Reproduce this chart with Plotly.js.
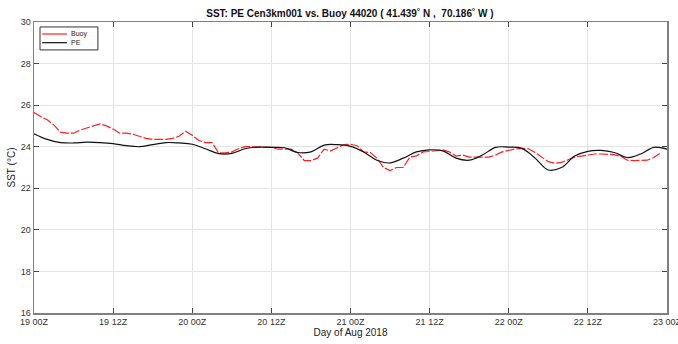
<!DOCTYPE html>
<html>
<head>
<meta charset="utf-8">
<script src="https://cdn.plot.ly/plotly-3.0.1.min.js"></script>
<style>
  html, body { margin: 0; padding: 0; background: #fff; overflow: hidden; }
  #chart { width: 678px; height: 344px; }
</style>
</head>
<body>
<div id="chart"></div>
<script>
// Hours since 19 Aug 2018 00Z
const peHours = [0,2,4,6,8,10,12,14,16,18,20,22,24,26,28,30,32,34,36,38,40,42,44,46,48,
  50,52,54,56,58,60,62,64,66,68,70,72,74,76,78,80,82,84,86,88,90,92,94,96];
// Model (PE) sea surface temperature, degC
const peSST = [24.62,24.35,24.2,24.18,24.22,24.2,24.15,24.05,24.0,24.1,24.2,24.18,24.12,23.9,23.67,
  23.68,23.9,23.98,23.97,23.95,23.72,23.75,24.08,24.1,24.02,23.75,23.35,23.22,23.45,23.75,23.85,
  23.8,23.45,23.35,23.6,23.97,23.98,23.92,23.45,22.88,23.0,23.55,23.78,23.82,23.72,23.48,23.65,
  23.97,23.88];

// Buoy 44020 hourly observations
const buoyHours = [0,1,2,3,4,5,6,7,8,9,10,11,12,13,14,15,16,17,18,19,20,21,22,23,24,25,26,27,28,29,
  30,31,32,33,34,35,36,37,38,39,40,41,42,43,44,45,46,47,48,49,50,51,52,53,54,55,56,57,58,59,60,61,
  62,63,64,65,66,67,68,69,70,71,72,73,74,75,76,77,78,79,80,81,82,83,84,85,86,87,88,89,90,91,92,93,
  94,95];
const buoySST = [25.65,25.45,25.3,25.05,24.7,24.65,24.65,24.8,24.9,25.0,25.1,25.0,24.85,24.65,24.65,
  24.6,24.5,24.4,24.35,24.35,24.35,24.4,24.5,24.75,24.55,24.3,24.2,24.2,23.7,23.7,23.75,23.9,24.0,
  24.0,23.97,23.97,23.97,23.88,23.88,23.88,23.7,23.33,23.33,23.45,23.88,23.8,23.95,24.1,24.12,24.05,
  23.75,23.72,23.45,23.0,22.85,23.0,23.0,23.5,23.56,23.75,23.77,23.82,23.85,23.75,23.55,23.6,23.5,
  23.5,23.5,23.5,23.6,23.75,23.82,23.9,23.92,23.9,23.72,23.5,23.28,23.2,23.25,23.37,23.5,23.55,23.6,
  23.65,23.65,23.65,23.62,23.53,23.35,23.33,23.33,23.35,23.48,23.7];

const xTickVals = [0,12,24,36,48,60,72,84,96];
const xTickText = ['19 00Z','19 12Z','20 00Z','20 12Z','21 00Z','21 12Z','22 00Z','22 12Z','23 00Z'];
const yTickVals = [16,18,20,22,24,26,28,30];
const seriesNames = ['Buoy', 'PE'];
const seriesColors = ['#ff2020', '#111111'];

const FONT = 'Liberation Sans, Arial, sans-serif';
const AXIS_GREY = '#808080';

const traces = [
  {
    x: buoyHours, y: buoySST, name: seriesNames[0], mode: 'lines',
    line: { color: seriesColors[0], width: 1.2, dash: '9px,2px' }
  },
  {
    x: peHours, y: peSST, name: seriesNames[1], mode: 'lines',
    line: { color: seriesColors[1], width: 1.2, shape: 'spline', smoothing: 1 }
  }
];

const axisCommon = {
  showline: true, linecolor: AXIS_GREY, linewidth: 1.5, mirror: 'ticks',
  ticks: 'inside', ticklen: 5, tickwidth: 1, tickcolor: '#444',
  showgrid: true, gridcolor: '#e4e4e4', gridwidth: 1, zeroline: false,
  tickfont: { family: FONT, size: 9, color: '#333' }
};

// Boxed key in the upper-left corner of the plot area (paper coords)
const keyShapes = [
  { type: 'rect', xref: 'paper', yref: 'paper', x0: 0.0095, x1: 0.101, y0: 0.904, y1: 0.983,
    line: { color: '#333', width: 1 }, fillcolor: '#fff', layer: 'above' },
  { type: 'line', xref: 'paper', yref: 'paper', x0: 0.013, x1: 0.052, y0: 0.9588, y1: 0.9588,
    line: { color: seriesColors[0], width: 1.2 }, layer: 'above' },
  { type: 'line', xref: 'paper', yref: 'paper', x0: 0.013, x1: 0.052, y0: 0.9289, y1: 0.9289,
    line: { color: seriesColors[1], width: 1.2 }, layer: 'above' }
];
const keyLabels = [
  { xref: 'paper', yref: 'paper', x: 0.056, y: 0.9588, text: seriesNames[0], showarrow: false,
    xanchor: 'left', yanchor: 'middle', font: { family: FONT, size: 7, color: '#222' } },
  { xref: 'paper', yref: 'paper', x: 0.056, y: 0.9289, text: seriesNames[1], showarrow: false,
    xanchor: 'left', yanchor: 'middle', font: { family: FONT, size: 7, color: '#222' } }
];

const layout = {
  width: 678, height: 344,
  margin: { l: 34, r: 11, t: 22, b: 31 },
  paper_bgcolor: '#fff', plot_bgcolor: '#fff',
  font: { family: FONT, color: '#222' },
  title: {
    text: '<b>SST: PE Cen3km001 vs. Buoy 44020 ( 41.439˚ N ,  70.186˚ W )</b>',
    font: { family: FONT, size: 10, color: '#111' },
    x: 0.5161, xanchor: 'center', y: 0.962, yanchor: 'middle'
  },
  xaxis: Object.assign({}, axisCommon, {
    range: [0, 96], tickvals: xTickVals, ticktext: xTickText, ticklabeloverflow: 'allow',
    title: { text: 'Day of Aug 2018', font: { family: FONT, size: 10, color: '#222' }, standoff: 2 }
  }),
  yaxis: Object.assign({}, axisCommon, {
    range: [16, 30], tickvals: yTickVals,
    title: { text: 'SST (°C)', font: { family: FONT, size: 10, color: '#222' }, standoff: 3 }
  }),
  showlegend: false,
  shapes: keyShapes,
  annotations: keyLabels
};

Plotly.newPlot('chart', traces, layout, { staticPlot: true, displayModeBar: false });
</script>
</body>
</html>
